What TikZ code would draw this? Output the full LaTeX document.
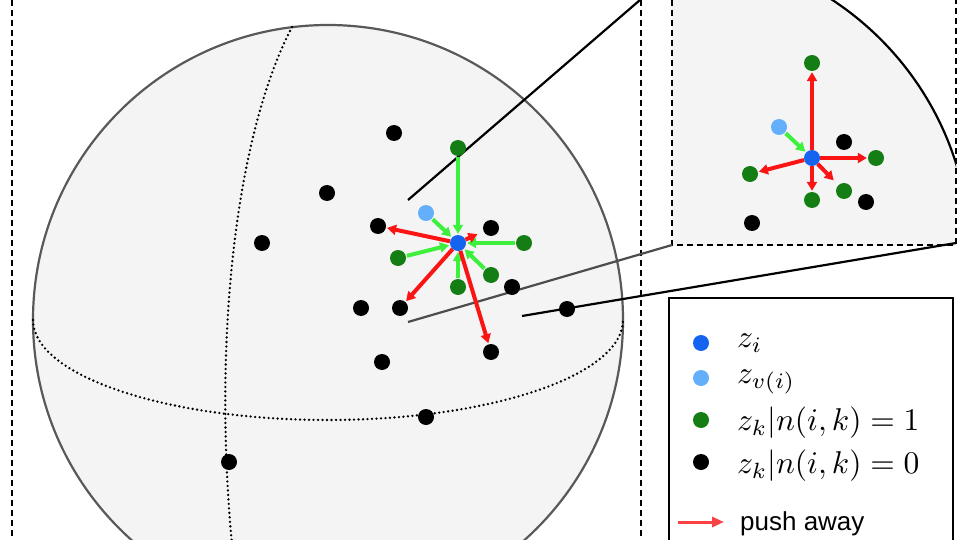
\documentclass[tikz,border=0pt]{standalone}
\usepackage{amsmath}
\usepackage{fontspec}
\setsansfont{Liberation Sans}
\usetikzlibrary{arrows.meta,calc}
\definecolor{ptblue}{RGB}{20,100,240}
\definecolor{ptlight}{RGB}{100,175,250}
\definecolor{ptgreen}{RGB}{20,125,20}
\definecolor{pullgreen}{RGB}{60,240,60}
\definecolor{pushred}{RGB}{250,20,20}
\definecolor{spheregray}{RGB}{244,244,244}
\tikzset{
  pt/.style={circle,inner sep=0pt,minimum size=16pt},
  blk/.style={pt,fill=black},
  grn/.style={pt,fill=ptgreen},
  anc/.style={pt,fill=ptblue},
  aug/.style={pt,fill=ptlight},
  pull/.style={-{Triangle[length=9pt,width=10pt]},pullgreen,line width=4pt,shorten >=1pt,shorten <=1pt},
  push/.style={-{Triangle[length=9pt,width=10pt]},pushred,line width=4pt,shorten >=1pt},
  zoomline/.style={black,line width=2.2pt},
  frame/.style={dashed,dash pattern=on 6pt off 4pt,line width=2.2pt},
  dots/.style={line width=2.6pt,dash pattern=on 0pt off 4.5pt,line cap=round},
}
\begin{document}
\begin{tikzpicture}[x=1pt,y=-1pt]
    \useasboundingbox (0,0) rectangle (960,540);
    \clip (0,0) rectangle (960,540);

		% sphere
		\draw [fill=spheregray,draw=black!65,line width=2.2pt] (328,320) circle [radius=295pt];
		\draw [dots] (33,320) arc [start angle=180,end angle=360,x radius=295pt,y radius=100pt];
		\draw [dots] (292,27) .. controls (238,130) and (212,330) .. (232,545);

		% dashed frames
		\draw [frame] (12,0)--(12,540);
		\draw [frame] (641,0)--(641,540);

		% inset
		\begin{scope}
			\clip (672,-5) rectangle (956,245);
			\fill [spheregray] (665,255) circle [radius=305pt];
			\draw [line width=2.2pt] (665,255) circle [radius=305pt];
		\end{scope}
		\draw [frame] (672,0)--(672,245)--(956,245)--(956,0);

		% zoom lines
		\draw [zoomline] (408,200)--(640,0);
		\draw [zoomline,black!70] (408,322)--(672,245);
		\draw [zoomline] (522,316)--(956,243);

		% main points
		\node [anc] (zi) at (458,243) {};
		\node [aug] (zv) at (426,213) {};
		\foreach \n/\x/\y in {g1/458/148,g2/524/243,g3/398/258,g4/458/287,g5/491/275}
			\node [grn] (\n) at (\x,\y) {};
		\foreach \n/\x/\y in {b1/394/133,b2/327/193,b3/262/243,b4/378/226,b5/491/228,b6/512/287,b7/361/308,b8/400/308,b9/382/362,b10/491/352,b11/426/417,b12/229/462,b13/567/309}
			\node [blk] (\n) at (\x,\y) {};

		\foreach \n in {g1,g2,g3,g4,g5,zv}
			\draw [pull] (\n)--(zi);
		\foreach \n in {b4,b8,b10}
			\draw [push] (zi)--(\n);
		\draw [push] (zi)--($(zi)!0.62!(b5)$);

		% inset points
		\node [anc] (ii) at (812,158) {};
		\node [aug] (iv) at (779,127) {};
		\foreach \n/\x/\y in {h1/812/63,h2/876/158,h3/750/174,h4/812/200,h5/844/191}
			\node [grn] (\n) at (\x,\y) {};
		\foreach \n/\x/\y in {c1/844/142,c2/866/202,c3/752/223}
			\node [blk] (\n) at (\x,\y) {};
		\draw [pull] (iv)--(ii);
		\foreach \n in {h1,h2,h3,h4}
			\draw [push] (ii)--(\n);
		\draw [push] (ii)--($(ii)!0.7!(h5)$);

		% legend
		\draw [line width=2.2pt] (669,298) rectangle (953,560);
		\node [anc] (l1) at (701,343) {};
		\node [aug] (l2) at (701,378) {};
		\node [grn] (l3) at (701,420) {};
		\node [blk] (l4) at (701,462) {};
		\node [anchor=west,scale=3.15] (t1) at (726,343) {$z_i$};
		\node [anchor=west,scale=3.15] (t2) at (726,382) {$z_{v(i)}$};
		\node [anchor=west,scale=3.15] (t3) at (726,423) {$z_k|n(i,k)=1$};
		\node [anchor=west,scale=3.15] (t4) at (726,466) {$z_k|n(i,k)=0$};
		\coordinate (pa) at (678,522);
		\coordinate (pb) at (724,522);
		\draw [-{Triangle[length=12pt,width=10pt]},pushred!80,line width=3pt] (pa)--(pb);
		\node [anchor=west,font=\sffamily,scale=2.6] (t5) at (731,524) {push away};
\end{tikzpicture}
\end{document}
